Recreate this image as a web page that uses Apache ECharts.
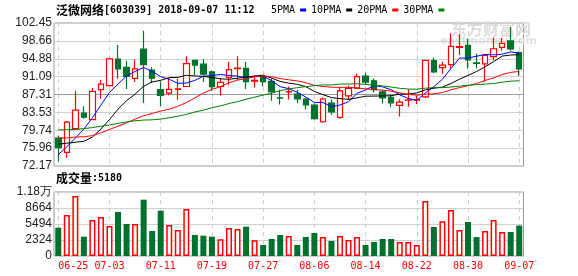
<!DOCTYPE html>
<html><head><meta charset="utf-8">
<script src="https://cdn.jsdelivr.net/npm/echarts@6/dist/echarts.min.js"></script>
<style>html,body{margin:0;padding:0;background:#fff}#c{width:578px;height:276px}</style>
</head><body><div id="c"></div><script>
const dates = ['06-25','06-26','06-27','06-28','06-29','07-02','07-03','07-04','07-05','07-06','07-09','07-10','07-11','07-12','07-13','07-16','07-17','07-18','07-19','07-20','07-23','07-24','07-25','07-26','07-27','07-30','07-31','08-01','08-02','08-03','08-06','08-07','08-08','08-09','08-10','08-13','08-14','08-15','08-16','08-17','08-20','08-21','08-22','08-23','08-24','08-27','08-28','08-29','08-30','08-31','09-03','09-04','09-05','09-06','09-07'];
const opens  = [78.10,75.05,80.10,83.35,82.00,88.33,89.20,94.79,93.04,90.72,96.90,92.50,88.33,87.62,88.40,89.00,94.55,93.74,92.10,89.00,90.93,92.80,92.86,90.15,91.00,90.10,86.62,87.85,87.37,86.33,85.05,81.54,85.48,82.45,87.00,88.65,91.21,90.22,87.86,86.70,85.02,86.10,86.10,86.82,94.50,93.00,93.64,97.30,97.70,94.00,93.78,95.32,97.30,98.66,96.20];
const closes = [76.05,81.45,84.00,82.50,87.97,89.52,94.86,92.75,91.14,92.75,93.62,90.75,87.13,88.40,88.50,93.85,93.55,91.63,88.96,89.87,92.58,92.90,90.05,90.30,90.05,87.90,86.55,87.95,86.40,85.12,82.18,86.36,83.65,88.08,88.62,91.10,89.94,88.35,86.60,85.55,85.70,86.20,86.25,94.55,92.08,93.55,97.50,97.45,94.62,93.90,95.60,97.00,98.14,96.94,92.72];
const lows   = [73.20,73.90,80.00,82.20,81.90,86.40,89.00,90.65,88.47,89.94,85.50,89.73,84.81,87.13,86.20,88.90,91.45,89.94,88.11,87.10,89.35,90.40,88.50,88.80,89.00,86.00,85.20,86.25,85.45,84.15,81.95,81.33,83.00,82.20,86.20,88.50,89.50,87.75,85.40,84.60,82.63,84.70,85.30,86.55,91.80,91.70,92.80,95.70,92.80,92.80,90.00,94.50,96.60,96.60,91.25];
const highs  = [78.60,81.70,88.10,84.80,88.70,90.40,95.10,97.80,94.44,94.72,100.80,93.10,90.08,90.79,90.70,95.40,94.60,94.79,92.40,90.80,94.26,95.40,94.26,91.40,91.30,90.75,88.30,89.00,88.30,86.60,85.40,86.67,86.25,88.90,89.20,91.70,91.90,90.70,88.30,87.30,86.30,88.40,87.00,94.60,95.15,94.25,100.30,100.00,99.10,96.00,95.90,99.36,99.30,101.60,96.40];
const ma5  = [74.6,76.2,78.1,80.0,82.38,85.08,87.76,89.52,91.25,92.20,93.02,92.20,91.08,90.53,89.68,89.73,90.29,91.19,91.30,91.57,91.32,91.19,90.87,91.14,91.18,90.24,88.97,88.55,87.77,86.78,85.64,85.60,84.74,85.08,85.78,87.56,88.28,89.22,88.92,88.31,87.23,86.48,86.06,87.65,88.96,90.53,92.79,95.03,95.04,95.40,95.81,95.71,95.85,96.32,96.08];
const ma10 = [76.8,77.0,77.2,77.4,78.3,80.0,82.0,84.2,86.0,87.4,89.05,89.98,90.30,90.89,90.94,91.38,91.25,91.14,90.92,90.63,90.53,90.74,91.03,91.22,91.38,90.78,90.08,89.71,89.46,88.98,87.94,87.29,86.65,86.43,86.28,86.60,86.94,86.98,87.00,87.05,87.40,87.38,87.64,88.29,88.64,88.88,89.64,90.55,91.35,92.18,93.17,94.25,95.44,95.68,95.74];
const ma20 = [78.1,78.1,78.3,78.35,78.6,79.2,79.9,80.6,81.3,82.1,82.8,83.3,83.8,84.2,84.8,85.6,86.6,87.6,88.4,88.96,89.79,90.36,90.67,91.06,91.16,91.08,90.67,90.43,90.19,89.81,89.24,89.02,88.84,88.83,88.83,88.69,88.51,88.35,88.23,88.02,87.67,87.34,87.15,87.36,87.46,87.74,88.29,88.77,89.18,89.62,90.29,90.82,91.54,91.99,92.19];
const ma30 = [79.8,79.85,79.9,80.1,80.3,80.6,80.85,81.2,81.5,81.75,81.9,81.95,82.1,82.4,82.7,83.1,83.6,84.0,84.5,84.9,85.4,85.8,86.3,86.75,87.2,87.6,88.1,88.5,88.75,88.97,89.17,89.34,89.33,89.51,89.53,89.59,89.42,89.28,89.13,88.89,88.62,88.47,88.44,88.65,88.77,88.75,88.89,89.08,89.27,89.40,89.50,89.64,89.91,90.13,90.22];
const volumes = [4767,7277,11041,2984,6286,6881,5098,7871,5494,5494,10315,4107,8135,5296,4305,8466,3315,3182,2984,2456,4701,4503,4966,2258,1333,2522,3315,3116,1333,2918,3711,2918,2126,3116,2324,2918,1333,1928,2522,2522,1928,1928,1333,10051,4899,6022,8268,4305,5890,2918,4107,6286,3909,3909,5180];
const priceTickLabels = ['72.17','75.96','79.74','83.53','87.31','91.09','94.88','98.66','102.45'];
const volTickLabels = ['0','2324','5494','8664','1.18万'];
const maNames = ['5PMA','10PMA','20PMA','30PMA'];

const RED = '#ff0000', GREEN = '#00712f';
const MONO = '"DejaVu Sans Mono", monospace';
const SANS = '"Liberation Sans", Arial, sans-serif';
const CJK = '"Noto Sans CJK SC", sans-serif';
const PMIN = 72.17, PMAX = 102.45, PINT = 3.785;
const VMIN = -846, VMAX = 11834, VINT = 3170;

const candles = dates.map((d, i) => [opens[i], closes[i], lows[i], highs[i]]);
const volData = volumes.map((v, i) => closes[i] >= opens[i]
  ? { value: v, itemStyle: { color: '#fff', borderColor: RED, borderWidth: 1.5 } }
  : { value: v, itemStyle: { color: GREEN, borderColor: GREEN, borderWidth: 0 } });

const chart = echarts.init(document.getElementById('c'), null, { renderer: 'canvas' });
const splitColors = priceTickLabels.map((t, i) => i === 4 ? '#999' : '#d0d0d0');
chart.setOption({
  animation: false,
  title: [
    { text: '{a|泛微网络}{b|[603039] 2018-09-07 11:12}', left: 56, top: 4, padding: 0,
      textStyle: { rich: { a: { fontFamily: CJK, fontSize: 12, color: '#000' }, b: { fontFamily: MONO, fontSize: 10, color: '#000' } } } },
    { text: '{a|成交量}{b|:5180}', left: 56, top: 172, padding: 0,
      textStyle: { rich: { a: { fontFamily: CJK, fontSize: 12, color: '#000' }, b: { fontFamily: MONO, fontSize: 10, color: '#000' } } } }
  ],
  legend: { left: 271, top: 5, padding: 0, itemWidth: 6, itemHeight: 3, itemGap: 5, align: 'right', icon: 'rect',
    textStyle: { fontFamily: MONO, fontSize: 10, color: '#000', padding: 0 }, data: maNames, selectedMode: false },
  graphic: [
    { type: 'text', left: 451, top: 21, silent: true, z: 0,
      style: { text: '东方财富网', font: 'bold 16px "Noto Sans CJK SC"', fill: '#dcdcdc' } },
    { type: 'text', left: 440, top: 36, silent: true, z: 0,
      style: { text: 'eastmoney.com', font: 'bold 11px "DejaVu Sans"', fill: '#e2e2e2' } }
  ],
  grid: [
    { left: 54, right: 54.5, top: 23, height: 143, show: true, borderColor: '#999', borderWidth: 1, backgroundColor: 'transparent' },
    { left: 54, right: 54.5, top: 192, height: 64, show: true, borderColor: '#999', borderWidth: 1, backgroundColor: 'transparent' }
  ],
  xAxis: [
    { type: 'category', gridIndex: 0, data: dates, boundaryGap: true, axisLine: { show: false }, axisTick: { show: false }, axisLabel: { show: false },
      splitLine: { show: true, interval: 5, alignWithLabel: true, lineStyle: { type: [4, 4], color: '#ccc', width: 1 } } },
    { type: 'category', gridIndex: 1, data: dates, boundaryGap: true, axisLine: { show: false }, axisTick: { show: false },
      axisLabel: { show: true, interval: 5, color: RED, fontFamily: MONO, fontSize: 10, margin: 5, alignMinLabel: 'left' },
      splitLine: { show: true, interval: 5, alignWithLabel: true, lineStyle: { type: [4, 4], color: '#ccc', width: 1 } } }
  ],
  yAxis: [
    { type: 'value', gridIndex: 0, min: PMIN, max: PMAX, interval: PINT, scale: true,
      axisLine: { show: false }, axisTick: { show: false },
      axisLabel: { color: '#222', fontFamily: SANS, fontSize: 12, margin: 2, formatter: v => priceTickLabels[Math.round((v - PMIN) / PINT)] },
      splitLine: { show: true, lineStyle: { color: splitColors, width: 1 } } },
    { type: 'value', gridIndex: 1, min: VMIN, max: VMAX, interval: VINT, startValue: VMIN,
      axisLine: { show: false }, axisTick: { show: false },
      axisLabel: { color: '#222', fontFamily: SANS, fontSize: 12, margin: 2, formatter: v => volTickLabels[Math.round((v - VMIN) / VINT)] },
      splitLine: { show: true, lineStyle: { color: '#d0d0d0', width: 1 } } }
  ],
  series: [
    { type: 'candlestick', xAxisIndex: 0, yAxisIndex: 0, data: candles, barWidth: 6,
      itemStyle: { color: '#fff', color0: GREEN, borderColor: RED, borderColor0: GREEN, borderWidth: 1.2 } },
    { name: '5PMA', type: 'line', xAxisIndex: 0, yAxisIndex: 0, data: ma5, showSymbol: false, symbol: 'none', color: '#0000ff', lineStyle: { width: 1 } },
    { name: '10PMA', type: 'line', xAxisIndex: 0, yAxisIndex: 0, data: ma10, showSymbol: false, symbol: 'none', color: '#000000', lineStyle: { width: 1 } },
    { name: '20PMA', type: 'line', xAxisIndex: 0, yAxisIndex: 0, data: ma20, showSymbol: false, symbol: 'none', color: '#ff0000', lineStyle: { width: 1 } },
    { name: '30PMA', type: 'line', xAxisIndex: 0, yAxisIndex: 0, data: ma30, showSymbol: false, symbol: 'none', color: '#008000', lineStyle: { width: 1 } },
    { type: 'bar', xAxisIndex: 1, yAxisIndex: 1, data: volData, barWidth: 6 }
  ]
});
</script></body></html>
